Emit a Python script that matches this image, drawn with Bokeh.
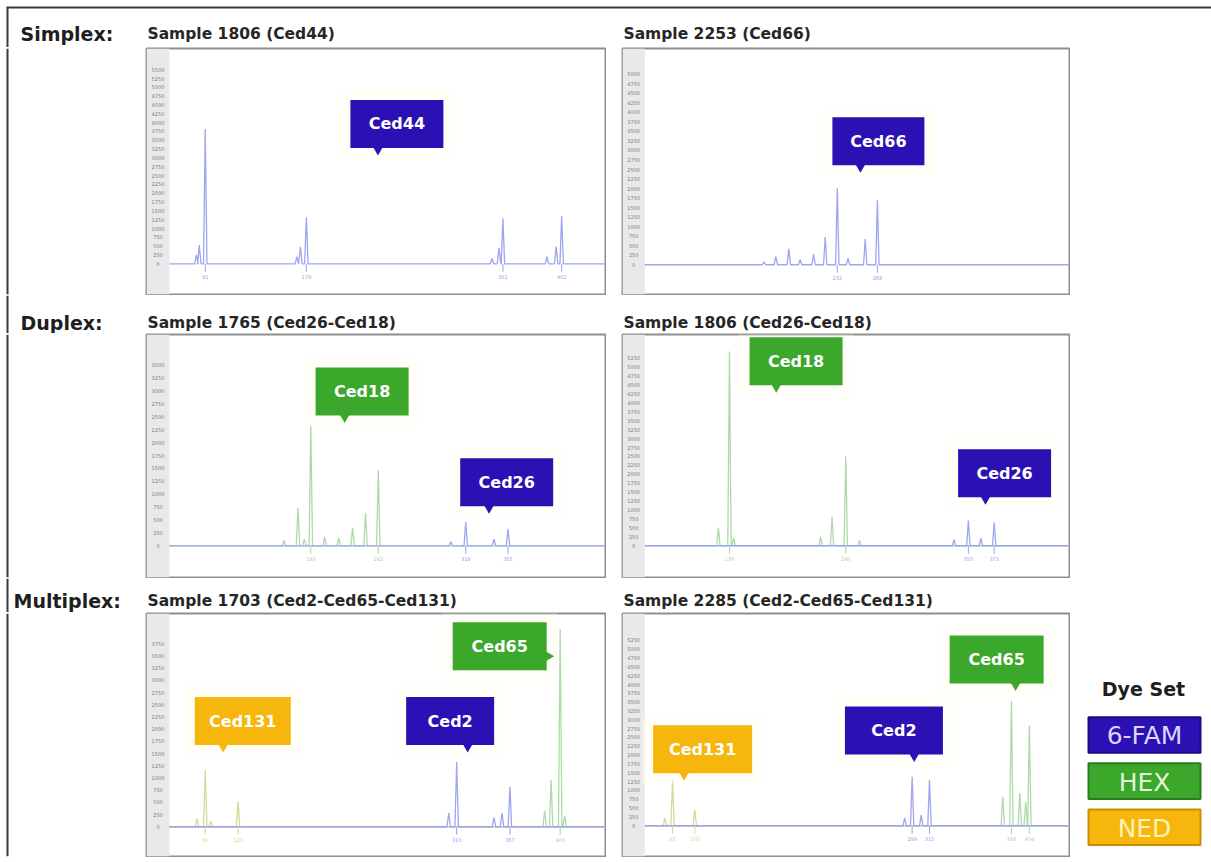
import numpy as np
from bokeh.plotting import figure
from bokeh.layouts import column, row
from bokeh.models import BoxAnnotation, Span, Spacer, Range1d
from bokeh.core.properties import value
from bokeh.embed import file_html
from bokeh.resources import INLINE

# ---------------- data ----------------
ROW_LABELS = ["Simplex:", "Duplex:", "Multiplex:"]
PANEL_TITLES = ["Sample 1806 (Ced44)", "Sample 2253 (Ced66)",
                "Sample 1765 (Ced26-Ced18)", "Sample 1806 (Ced26-Ced18)",
                "Sample 1703 (Ced2-Ced65-Ced131)", "Sample 2285 (Ced2-Ced65-Ced131)"]
DYES = ["6-FAM", "HEX", "NED"]

# peaks: size (bp), height (RFU), dye, allele called
P1_X = [83.5, 86.0, 91.2, 171.0, 174.1, 179.3, 341.0, 347.2, 350.6, 389.0, 397.0, 401.8]
P1_H = [250, 530, 3820, 200, 478, 1320, 150, 450, 1292, 200, 486, 1348]
P1_DYE = ["6-FAM"] * 12
P1_CALLED = [0, 0, 1, 0, 0, 1, 0, 0, 1, 0, 0, 1]

P2_X = [166.5, 177.2, 188.8, 199.0, 211.0, 221.4, 232.2, 241.8, 257.2, 268.1]
P2_H = [74, 213, 417, 139, 278, 729, 2005, 176, 677, 1693]
P2_DYE = ["6-FAM"] * 10
P2_CALLED = [0, 0, 0, 0, 0, 0, 1, 0, 0, 1]

P3_X = [159.7, 172.0, 177.5, 183.2, 195.3, 207.5, 219.6, 230.9, 242.0, 305.2, 318.2, 342.8, 355.0]
P3_H = [102, 731, 129, 2327, 173, 154, 346, 635, 1462, 77, 462, 129, 327]
P3_DYE = ["HEX"] * 9 + ["6-FAM"] * 4
P3_CALLED = [0, 0, 0, 1, 0, 0, 0, 0, 1, 0, 1, 0, 1]

P4_X = [125.8, 135.7, 139.4, 217.3, 227.5, 239.8, 252.0, 336.7, 349.5, 360.7, 372.6]
P4_H = [500, 5444, 222, 250, 814, 2500, 147, 167, 703, 208, 647]
P4_DYE = ["HEX"] * 7 + ["6-FAM"] * 4
P4_CALLED = [0, 1, 0, 0, 0, 1, 0, 0, 1, 0, 1]

P5_X = [83.9, 91.2, 96.0, 119.8, 303.4, 310.3, 342.8, 349.8, 356.7, 387.0, 392.6, 400.5, 404.4]
P5_H = [163, 1159, 108, 514, 285, 1327, 189, 285, 819, 325, 955, 4045, 217]
P5_DYE = ["NED"] * 4 + ["6-FAM"] * 5 + ["HEX"] * 4
P5_CALLED = [0, 1, 0, 1, 0, 1, 0, 0, 1, 0, 0, 1, 0]

P6_X = [78.0, 84.8, 104.7, 292.5, 299.2, 307.3, 314.7, 380.3, 388.0, 395.5, 400.8, 404.1]
P6_H = [225, 1292, 449, 225, 1385, 300, 1292, 823, 3539, 927, 674, 2837]
P6_DYE = ["NED"] * 3 + ["6-FAM"] * 4 + ["HEX"] * 5
P6_CALLED = [0, 1, 1, 0, 1, 0, 1, 0, 1, 0, 0, 1]

# marker callouts
P1_MARKERS, P1_MARKER_DYE = ["Ced44"], ["6-FAM"]
P2_MARKERS, P2_MARKER_DYE = ["Ced66"], ["6-FAM"]
P3_MARKERS, P3_MARKER_DYE = ["Ced18", "Ced26"], ["HEX", "6-FAM"]
P4_MARKERS, P4_MARKER_DYE = ["Ced18", "Ced26"], ["HEX", "6-FAM"]
P5_MARKERS, P5_MARKER_DYE = ["Ced131", "Ced2", "Ced65"], ["NED", "6-FAM", "HEX"]
P6_MARKERS, P6_MARKER_DYE = ["Ced131", "Ced2", "Ced65"], ["NED", "6-FAM", "HEX"]

RULER_TICKS = list(range(0, 6001, 250))

# ---------------- layout / style ----------------
DYE_FILL = {"6-FAM": "#2b10b4", "HEX": "#3ba72b", "NED": "#f6b60c"}
DYE_EDGE = {"6-FAM": "#1c0a7c", "HEX": "#2a7d1e", "NED": "#c98f00"}
DYE_TEXT = {"6-FAM": "#dcd6ff", "HEX": "#e2f5dc", "NED": "#fff2b8"}
DYE_TRACE = {"6-FAM": "#9aa0ee", "HEX": "#aad8a2", "NED": "#d3d98f"}

X_START, X_END, RULER_END = 40, 440, 60
COL_W = [461, 449]
ROW_H = [248, 245, 245]
HEAD_H = [47, 38, 34]
HEAD_TEXT_Y = [33, 27, 22]
LABEL_X = [20, 20, 13]
TITLE_X = [147, 623]
BORDER_POS = 7
LEFT_W, GAP_W, RIGHT_W, TOTAL_W = 145, 15, 141, 1211
Y_RANGES = [(-870, 6100), (-781, 5677), (-615, 4096), (-889, 5917), (-610, 4370), (-871, 6011)]
# (center x bp, center y RFU, pointer pos, box width px, pointer side)
CALLOUT_PLACE = [
    [(258.2, 3961, 241.7, 93, "bottom")],
    [(269.0, 3242, 252.9, 92, "bottom")],
    [(227.9, 2990, 212.7, 93, "bottom"), (353.9, 1231, 338.5, 93, "bottom")],
    [(195.3, 5167, 177.6, 93, "bottom"), (381.9, 2028, 364.8, 93, "bottom")],
    [(123.9, 2165, 106.8, 96, "bottom"), (304.6, 2165, 319.9, 88, "bottom"), (347.8, 3699, 3496, 94, "right")],
    [(111.7, 2166, 95.0, 99, "bottom"), (282.9, 2699, 301.0, 98, "bottom"), (374.8, 4708, 391.7, 94, "bottom")],
]
BOX_H = 48
FONT = value("DejaVu Sans")

PANELS = [
    (P1_X, P1_H, P1_DYE, P1_CALLED, P1_MARKERS, P1_MARKER_DYE),
    (P2_X, P2_H, P2_DYE, P2_CALLED, P2_MARKERS, P2_MARKER_DYE),
    (P3_X, P3_H, P3_DYE, P3_CALLED, P3_MARKERS, P3_MARKER_DYE),
    (P4_X, P4_H, P4_DYE, P4_CALLED, P4_MARKERS, P4_MARKER_DYE),
    (P5_X, P5_H, P5_DYE, P5_CALLED, P5_MARKERS, P5_MARKER_DYE),
    (P6_X, P6_H, P6_DYE, P6_CALLED, P6_MARKERS, P6_MARKER_DYE),
]


def bare(width, height, xr, yr, border=0):
    f = figure(width=width, height=height, x_range=Range1d(*xr), y_range=Range1d(*yr),
               output_backend="svg", toolbar_location=None, x_axis_type=None,
               y_axis_type=None, min_border=border)
    f.outline_line_color = None
    f.background_fill_color = "white"
    f.border_fill_color = "white"
    return f


def border_line(f, dim, loc):
    f.add_layout(Span(location=loc, dimension=dim, line_color="#3a3a3a", line_width=2))


def make_header(i, t1, t2):
    h = HEAD_H[i]
    f = bare(TOTAL_W, h, (0, TOTAL_W), (h, 0))
    if i == 0:
        f.segment(x0=[BORDER_POS - 1], y0=[BORDER_POS], x1=[TOTAL_W], y1=[BORDER_POS],
                  line_color="#3a3a3a", line_width=2)
        f.segment(x0=[BORDER_POS], y0=[BORDER_POS], x1=[BORDER_POS], y1=[h],
                  line_color="#3a3a3a", line_width=2)
    else:
        border_line(f, "height", BORDER_POS)
    f.text(x=[LABEL_X[i]], y=[HEAD_TEXT_Y[i]], text=[ROW_LABELS[i]], text_font=FONT,
           text_font_style="bold", text_font_size="19px", text_baseline="middle",
           text_color="#1e1e1e")
    f.text(x=TITLE_X, y=[HEAD_TEXT_Y[i]] * 2, text=[t1, t2], text_font=FONT,
           text_font_style="bold", text_font_size="15.5px", text_baseline="middle",
           text_color="#262626")
    return f


def make_left(h):
    f = bare(LEFT_W, h, (0, LEFT_W), (0, 1))
    border_line(f, "height", BORDER_POS)
    return f


def make_panel(k, w, h):
    xs_, hs_, dyes_, called_, markers, mdye = PANELS[k]
    yb, yt = Y_RANGES[k]
    p = figure(width=w, height=h, x_range=Range1d(X_START, X_END), y_range=Range1d(yb, yt),
               output_backend="svg", toolbar_location=None, x_axis_type=None,
               y_axis_type=None, min_border=1)
    p.outline_line_color = "#8e8e8e"
    p.outline_line_width = 2
    p.background_fill_color = "white"
    p.border_fill_color = "white"
    sx = (w - 2) / (X_END - X_START)
    sy = (h - 2) / (yt - yb)
    p.add_layout(BoxAnnotation(left=X_START, right=RULER_END, fill_color="#e9e9e9",
                               fill_alpha=1.0, line_color=None, level="underlay"))
    ticks = [t for t in RULER_TICKS if t <= yt - 20 / sy]
    p.text(x=[(X_START + RULER_END) / 2] * len(ticks), y=ticks, text=[str(t) for t in ticks],
           text_font=FONT, text_font_size="5px", text_align="center",
           text_baseline="middle", text_color="#7c7c7c")
    # traces
    wpk = 1.5
    for dye in ["NED", "HEX", "6-FAM"]:
        idx = [i for i, d in enumerate(dyes_) if d == dye]
        if not idx:
            continue
        idx.sort(key=lambda i: xs_[i])
        tx, ty = [RULER_END], [0]
        for i in idx:
            tx += [xs_[i] - wpk, xs_[i], xs_[i] + wpk]
            ty += [0, hs_[i], 0]
        tx.append(X_END)
        ty.append(0)
        p.line(tx, ty, line_color=DYE_TRACE[dye], line_width=1.3, line_alpha=0.95)
    # allele bins
    cx_ = [xs_[i] for i in range(len(xs_)) if called_[i]]
    cc_ = [DYE_TRACE[dyes_[i]] for i in range(len(xs_)) if called_[i]]
    p.segment(x0=cx_, y0=[0] * len(cx_), x1=cx_, y1=[-8 / sy] * len(cx_),
              line_color=cc_, line_width=1)
    p.text(x=cx_, y=[-13 / sy] * len(cx_), text=[str(int(round(v))) for v in cx_],
           text_font=FONT, text_font_size="5px", text_align="center",
           text_baseline="middle", text_color=cc_)
    # callouts
    for (cx, cy, ptr, bw, side), lab, d in zip(CALLOUT_PLACE[k], markers, mdye):
        p.rect(x=[cx], y=[cy], width=[bw + 22], height=[BOX_H + 22], width_units="screen",
               height_units="screen", fill_color="#fffcea", fill_alpha=0.35, line_color=None)
        if side == "bottom":
            p.scatter(x=[ptr], y=[cy - (BOX_H / 2) / sy], marker="inverted_triangle", size=13,
                      fill_color=DYE_FILL[d], line_color=None)
        else:
            p.scatter(x=[cx + (bw / 2) / sx], y=[ptr], marker="triangle", angle=-np.pi / 2,
                      size=13, fill_color=DYE_FILL[d], line_color=None)
        p.rect(x=[cx], y=[cy], width=[bw], height=[BOX_H], width_units="screen",
               height_units="screen", fill_color=DYE_FILL[d], line_color=None)
        p.text(x=[cx], y=[cy], text=[lab], text_font=FONT, text_font_style="bold",
               text_font_size="16px", text_align="center", text_baseline="middle",
               text_color="white")
    return p


def make_legend(h):
    f = bare(RIGHT_W, h, (0, RIGHT_W), (h, 0))
    f.text(x=[73], y=[76], text=["Dye Set"], text_font=FONT, text_font_style="bold",
           text_font_size="19px", text_align="center", text_baseline="middle",
           text_color="#1e1e1e")
    ys = [122.5 + 46.5 * i for i in range(len(DYES))]
    f.rect(x=[74] * len(DYES), y=ys, width=112, height=36,
           fill_color=[DYE_FILL[d] for d in DYES], line_color=[DYE_EDGE[d] for d in DYES],
           line_width=2)
    f.text(x=[74] * len(DYES), y=[y + 1 for y in ys], text=DYES, text_font=FONT,
           text_font_size="25px", text_align="center", text_baseline="middle",
           text_color=[DYE_TEXT[d] for d in DYES])
    return f


children = []
for r in range(3):
    children.append(make_header(r, PANEL_TITLES[2 * r], PANEL_TITLES[2 * r + 1]))
    h = ROW_H[r]
    right = make_legend(h) if r == 2 else Spacer(width=RIGHT_W, height=h)
    children.append(row(make_left(h), make_panel(2 * r, COL_W[0], h),
                        Spacer(width=GAP_W, height=h), make_panel(2 * r + 1, COL_W[1], h),
                        right))

layout = column(*children)
open("out.html", "w").write(file_html(layout, INLINE))
